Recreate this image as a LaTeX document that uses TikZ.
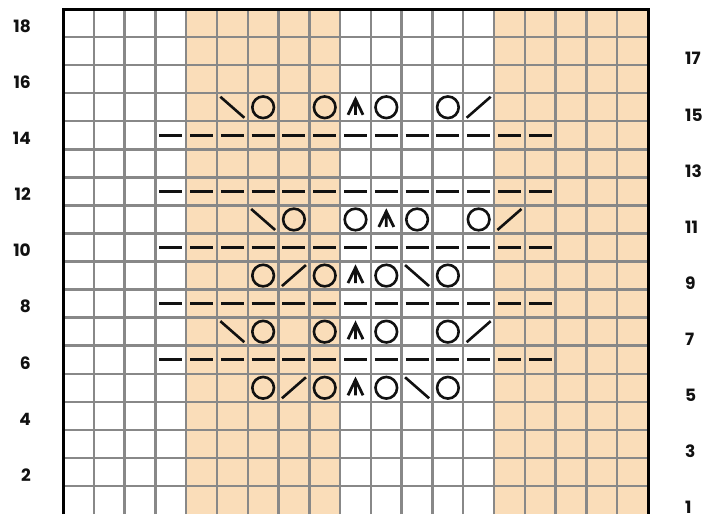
\documentclass[tikz,border=0pt]{standalone}
\usepackage{fontspec}
\usepackage{tikz}
\newfontfamily\chartfont{Poppins}
\definecolor{Peach}{HTML}{FADDB9}
\definecolor{GridGrey}{HTML}{888888}
\definecolor{InkBlack}{HTML}{111111}
\tikzset{
  % Plain chart cell lines
  gridline/.style={draw=GridGrey, line width=2.4pt},
  % Heavy outer frame
  frame/.style={draw=black, line width=3pt},
  % Stitch symbol stroke
  sym/.style={draw=InkBlack, line width=2.6pt},
  % Row numbers
  rowlbl/.style={inner sep=0pt, font=\chartfont\fontsize{17}{17}\selectfont\bfseries, text=InkBlack},
  % Yarn over
  yo/.pic={\draw[sym] (0,0) circle[radius=10.8pt];},
  % Right-leaning decrease
  ktog/.pic={\draw[sym] (-12pt,-10.5pt) -- (12pt,10.5pt);},
  % Left-leaning decrease
  ssk/.pic={\draw[sym] (-12pt,10.5pt) -- (12pt,-10.5pt);},
  % Centred double decrease
  cdd/.pic={\draw[sym, line width=2.8pt] (-7.5pt,-7.5pt) -- (0,8pt) -- (7.5pt,-7.5pt) (0,8pt) -- (0,-7.5pt);},
  % Purl
  purl/.pic={\draw[sym, line width=3pt] (-11.5pt,0) -- (11.5pt,0);}
}

\begin{document}
\begin{tikzpicture}[x=30.79pt, y=28.05pt]
  \useasboundingbox (-63pt,0) rectangle (641pt,514pt);
  % shaded panels
  \fill[Peach] (4,0) rectangle (9,18);
  \fill[Peach] (14,0) rectangle (19,18);
  % grid
  \foreach \c in {1,...,18} \draw[gridline] (\c,0) -- (\c,18);
  \foreach \r in {1,...,17} \draw[gridline] (0,\r) -- (19,\r);
  \draw[frame] (0,0) -- (0,18) -- (19,18) -- (19,0);
  % purl rows
  \foreach \r in {6,8,...,14}
    \foreach \c in {3,...,15}
      \pic at (\c+0.5,\r-0.5) {purl};
  % yarn overs
  \foreach \c/\r in {6/15, 8/15, 10/15, 12/15, 7/11, 9/11, 11/11, 13/11,
                     6/9, 8/9, 10/9, 12/9, 6/7, 8/7, 10/7, 12/7,
                     6/5, 8/5, 10/5, 12/5}
    \pic at (\c+0.5,\r-0.5) {yo};
  % decreases
  \foreach \c/\r in {13/15, 14/11, 7/9, 13/7, 7/5}
    \pic at (\c+0.5,\r-0.5) {ktog};
  \foreach \c/\r in {5/15, 6/11, 11/9, 5/7, 11/5}
    \pic at (\c+0.5,\r-0.5) {ssk};
  \foreach \c/\r in {9/15, 10/11, 9/9, 9/7, 9/5}
    \pic at (\c+0.5,\r-0.5) {cdd};
  % row numbers
  \foreach \r in {2,4,...,18}
    \node[rowlbl, anchor=east] (lbl\r) at (-1.04,\r-0.61) {\r};
  \foreach \r in {1,3,...,17}
    \node[rowlbl, anchor=west] (lbl\r) at (20.2,\r-0.77) {\r};
\end{tikzpicture}
\end{document}
